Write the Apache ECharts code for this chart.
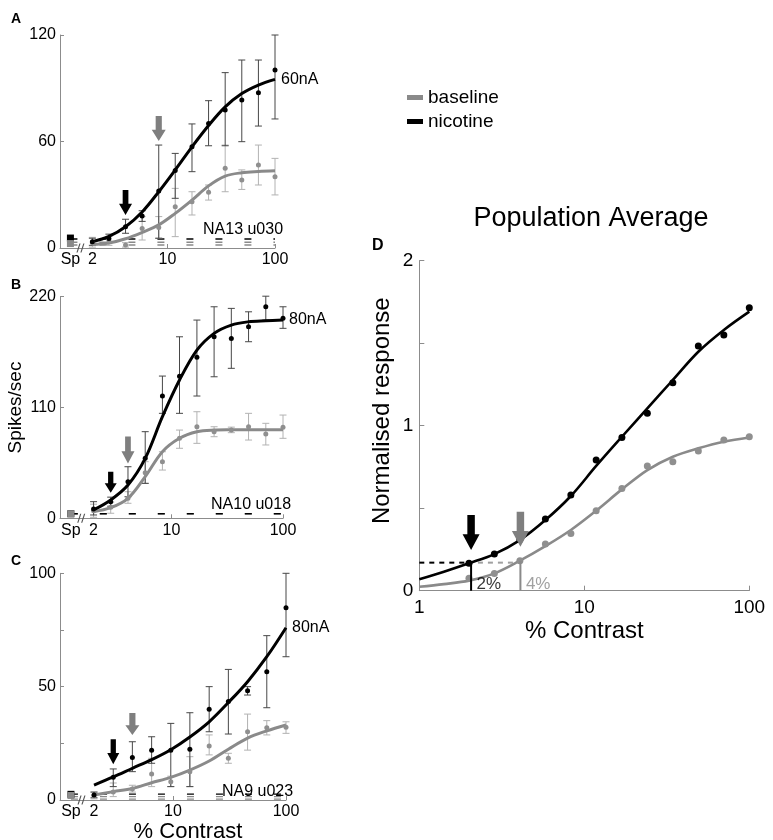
<!DOCTYPE html>
<html><head><meta charset="utf-8">
<script src="https://cdn.jsdelivr.net/npm/echarts@6/dist/echarts.min.js"></script>
<style>html,body{margin:0;padding:0;background:#fff}#c{width:773px;height:840px}</style>
</head><body><div id="c"></div>
<script>
// ---------------- data ----------------
const contrastAB = [2, 2.85, 4.07, 5.81, 8.29, 11.8, 16.9, 24.1, 34.4, 49.1, 70.1, 100];
const contrastC = [2, 2.96, 4.37, 6.47, 9.56, 14.1, 20.9, 30.9, 45.7, 67.6, 100];
const contrastFitD = [1, 1.41, 2, 2.85, 4.07, 5.81, 8.29, 11.8, 16.9, 24.1, 34.4, 49.1, 70.1, 100];

const xTickValues = [1.25, 2, 10, 100];
const xTickLabels = ['Sp', '2', '10', '100'];
const spontX = 1.25;
const breakX = 1.55;

// Panel A (60nA)
const nicA = [3.5, 5.4, 12, 18, 32.1, 43.6, 57, 70.2, 77.7, 83.4, 87.5, 100.3];
const nicALo = [1.5, 3, 8.3, 15, 5.5, 28, 43, 57.6, 57.6, 59.9, 68.7, 72.7];
const nicAHi = [5.5, 7.8, 16.2, 21, 58, 53.3, 69.9, 83, 98.8, 105.9, 105.9, 120];
const basA = [3, 4, 1.7, 11, 11.6, 23.3, 26.1, 31.4, 45, 38.3, 46.8, 40.2];
const basALo = [0.5, 1.5, 0.5, 4.5, 5.5, 6.4, 18.6, 27, 31.7, 33, 35.5, 29.9];
const basAHi = [6, 6.5, 3, 17.7, 17.7, 33.6, 31.7, 35.5, 58, 44, 58, 50.5];
const nicFitA = [3.5, 6.5, 12, 20.3, 31.7, 44, 57, 69, 79.5, 87, 91.8, 95];
const basFitA = [2, 2.8, 5.2, 8.8, 13, 19.5, 27, 35, 40.5, 42.4, 43.1, 43.5];
const spontA = [5.6, 2.5];            // nicotine, baseline
const spLinesNicA = [5.1];
const spLinesBasA = [3.2, 1.7];
const arrowsA = [[4.07, 25.6], [8.29, 67.3]]; // nicotine, baseline

// Panel B (80nA)
const nicB = [9.2, 16.5, 36.3, 59.5, 121.4, 141, 159.8, 180.2, 178.6, 190.2, 210, 198.5];
const nicBLo = [3.3, 12, 21.4, 34.7, 104.2, 104.2, 121.4, 140.5, 148.9, 175.3, 196.8, 188.6];
const nicBHi = [16.5, 21, 51.2, 86, 141.2, 180.2, 196.8, 210, 208.4, 205, 220.5, 210];
const basB = [7.5, 10.9, 19.8, 45.3, 56.2, 79.4, 90.9, 85.9, 87.6, 90.9, 83.7, 90.3];
const basBLo = [1, 5, 14.9, 34.7, 47.9, 69.5, 74.4, 81, 85, 77.7, 72.8, 79.4];
const basBHi = [14, 16, 26.4, 56.2, 66.1, 87.6, 105.8, 90.9, 90.5, 104.2, 94.3, 102.5];
const nicFitB = [8.3, 18.2, 33, 59.5, 100.9, 137.3, 167, 183.6, 191.8, 195.1, 196.1, 196.8];
const basFitB = [6.6, 10.5, 19.8, 41.3, 66.1, 79.4, 85.9, 87.6, 87.9, 88, 88, 88];
const spontB = [4.5, 4.5];
const spLinesNicB = [4.5];
const spLinesBasB = [4.5];
const arrowsB = [[2.85, 35.8], [4.07, 67.8]];

// Panel C (80nA)
const nicC = [2.2, 10, 18.8, 22, 22, 22.4, 40, 43.5, 48.2, 56.6, 84.8];
const nicCLo = [1, 5.9, 12.5, 16.2, 5.9, 5.9, 30.1, 29.1, 46.3, 40.7, 63.2];
const nicCHi = [3.5, 13.7, 25.7, 27.9, 33.8, 38.5, 50, 57.6, 50, 72.5, 100];
const basC = [2, 3.5, 4.8, 11.5, 8.1, 12.5, 23.8, 18.4, 30.1, 31.9, 32.1];
const basCLo = [0.5, 1.5, 3.5, 5.9, 5.9, 5.9, 19.9, 16.2, 22, 28.7, 29.4];
const basCHi = [3.5, 7.5, 6.5, 18.4, 10.5, 19.1, 28.7, 20.6, 37.9, 35, 34.5];
const nicFitC = [6.6, 10.2, 14, 17.8, 22.2, 27.8, 34.5, 43, 52.2, 63.2, 76];
const basFitC = [2.2, 3.7, 5.1, 7.6, 10, 13.2, 17.2, 22.4, 27.3, 30.5, 33.1];
const spontC = [2.5, 2];
const spLinesNicC = [2.6];
const spLinesBasC = [1.5, 0.4];
const arrowsC = [[2.96, 21.3], [4.37, 33.5]];

// Panel D (population average)
const nicD = [0.166, 0.222, 0.31, 0.434, 0.58, 0.792, 0.929, 1.075, 1.261, 1.483, 1.549, 1.715];
const basD = [0.075, 0.105, 0.182, 0.283, 0.347, 0.485, 0.62, 0.756, 0.782, 0.846, 0.913, 0.933];
const nicFitD = [0.069, 0.115, 0.166, 0.222, 0.307, 0.428, 0.574, 0.756, 0.933, 1.105, 1.277, 1.448, 1.58, 1.691];
const basFitD = [0.024, 0.04, 0.061, 0.105, 0.182, 0.27, 0.368, 0.485, 0.614, 0.731, 0.812, 0.863, 0.903, 0.929];
const thresholdLevelD = 0.17;
const thresholdsD = [[2.06, 0.166], [4.1, 0.18]];   // nicotine, baseline
const thresholdTextD = ['2%', '4%'];
const thresholdTextY = 0.04;
const arrowsD = [[2.06, 0.353], [4.1, 0.373]];

// ---------------- styles ----------------
const FONT = 'Liberation Sans, Arial, Helvetica, sans-serif';
const BLACK = '#000000';
const GRAY = '#8a8a8a';
const PT_GRAY = '#8f8f8f';
const ERR_BLACK = '#474747';
const ERR_GRAY = '#b2b2b2';
const AXIS = '#8c8c8c';
const arrowPath = 'path://M2.8,0L7.2,0L7.2,11L10,11L5,20L0,11L2.8,11Z';
const breakPath = 'path://M0,10L3,0L4.2,0L1.2,10Z M4,10L7,0L8.2,0L5.2,10Z';

function fmtX(v) {
  let best = -1, bd = 1e9;
  xTickValues.forEach((t, i) => {
    const d = Math.abs(Math.log10(v) - Math.log10(t));
    if (d < bd) { bd = d; best = i; }
  });
  return bd < 0.02 ? xTickLabels[best] : '';
}

function pairs(xs, ys) { return xs.map((c, i) => [c, ys[i]]); }

function curve(name, gi, xs, ys, color, width, extra) {
  return Object.assign({
    type: 'line', name, xAxisIndex: gi, yAxisIndex: gi,
    data: pairs(xs, ys), smooth: 0.35, symbol: 'none', showSymbol: false,
    color, lineStyle: { color, width }, itemStyle: { color }, z: 3, silent: true
  }, extra || {});
}
function points(name, gi, xs, ys, color, size) {
  return { type: 'scatter', name, xAxisIndex: gi, yAxisIndex: gi, data: pairs(xs, ys),
    symbolSize: size, itemStyle: { color, opacity: 1 }, z: 4, silent: true };
}
function errBars(name, gi, xs, lo, hi, color) {
  return {
    type: 'custom', name, xAxisIndex: gi, yAxisIndex: gi, z: 2, silent: true,
    data: xs.map((c, i) => [c, lo[i], hi[i]]),
    encode: { x: 0, y: [1, 2] },
    renderItem: function (params, api) {
      const x = api.value(0);
      const p1 = api.coord([x, api.value(1)]);
      const p2 = api.coord([x, api.value(2)]);
      const w = 3.5;
      const st = { stroke: color, lineWidth: 1 };
      return { type: 'group', children: [
        { type: 'line', shape: { x1: p1[0], y1: p1[1], x2: p2[0], y2: p2[1] }, style: st },
        { type: 'line', shape: { x1: p1[0] - w, y1: p1[1], x2: p1[0] + w, y2: p1[1] }, style: st },
        { type: 'line', shape: { x1: p2[0] - w, y1: p2[1], x2: p2[0] + w, y2: p2[1] }, style: st }
      ] };
    }
  };
}
function spLines(name, gi, levels, color) {
  return levels.map((v, k) => ({
    type: 'line', name: name + k, xAxisIndex: gi, yAxisIndex: gi,
    data: [[spontX, v], [100, v]], symbol: 'none',
    lineStyle: { color, width: 1.4, type: [7, 22] }, z: 1, silent: true
  }));
}
function spontMarks(gi, sp) {
  return [
    { type: 'scatter', name: 'spN' + gi, xAxisIndex: gi, yAxisIndex: gi, data: [[spontX, sp[0]]],
      symbol: 'rect', symbolSize: 7, itemStyle: { color: BLACK, opacity: 1 }, z: 4, silent: true },
    { type: 'scatter', name: 'spB' + gi, xAxisIndex: gi, yAxisIndex: gi, data: [[spontX, sp[1]]],
      symbol: 'rect', symbolSize: 7, itemStyle: { color: GRAY, opacity: 1 }, z: 4, silent: true },
    { type: 'scatter', name: 'brk' + gi, xAxisIndex: gi, yAxisIndex: gi, data: [[breakX, 0]],
      symbol: breakPath, symbolSize: [8, 9], itemStyle: { color: '#555', opacity: 1 }, z: 6, silent: true }
  ];
}
function arrows(gi, arr, sizes) {
  return [
    { type: 'scatter', name: 'arN' + gi, xAxisIndex: gi, yAxisIndex: gi,
      data: [{ value: arr[0], symbolSize: sizes[0] }], symbol: arrowPath,
      itemStyle: { color: BLACK, opacity: 1 }, z: 10, silent: true },
    { type: 'scatter', name: 'arB' + gi, xAxisIndex: gi, yAxisIndex: gi,
      data: [{ value: arr[1], symbolSize: sizes[1] }], symbol: arrowPath,
      itemStyle: { color: '#7f7f7f', opacity: 1 }, z: 10, silent: true }
  ];
}
function endLbl(text) {
  return { endLabel: { show: true, formatter: text, color: '#000', fontSize: 16, fontFamily: FONT, distance: 6 } };
}

function panelX(gi, extra) {
  return Object.assign({
    type: 'log', gridIndex: gi, min: 1, max: 100, logBase: 10,
    axisLine: { lineStyle: { color: AXIS, width: 1 } },
    axisTick: { inside: true, length: 4, lineStyle: { color: AXIS } },
    minorTick: { show: false }, splitLine: { show: false }, minorSplitLine: { show: false },
    axisLabel: { customValues: xTickValues, formatter: fmtX, fontSize: 16, color: '#000', margin: 4, fontFamily: FONT }
  }, extra || {});
}
function panelY(gi, max, interval, labelStep, extra) {
  return Object.assign({
    type: 'value', gridIndex: gi, min: 0, max, interval,
    axisLine: { show: true, lineStyle: { color: AXIS, width: 1 } },
    axisTick: { show: true, inside: true, length: 4, lineStyle: { color: AXIS } },
    splitLine: { show: false },
    axisLabel: { fontSize: 16, color: '#000', margin: 4, fontFamily: FONT,
      formatter: v => (Math.abs(v / labelStep - Math.round(v / labelStep)) < 1e-6 ? String(v) : '') }
  }, extra || {});
}

const arrowSizesA = [[13, 25], [14, 25]];
const arrowSizesB = [[12, 21], [13, 27]];
const arrowSizesC = [[12, 25], [14, 22]];
const arrowSizesD = [[17, 35], [17, 35]];

function panelSeries(gi, xs, nic, nicLo, nicHi, bas, basLo, basHi, nicFit, basFit, sp, spN, spB, arr, arrSz, lbl) {
  return [].concat(
    spLines('spLineB' + gi, gi, spB, GRAY),
    spLines('spLineN' + gi, gi, spN, BLACK),
    [errBars('errB' + gi, gi, xs, basLo, basHi, ERR_GRAY),
     errBars('errN' + gi, gi, xs, nicLo, nicHi, ERR_BLACK),
     curve('fitB' + gi, gi, xs, basFit, GRAY, 3),
     curve('fitN' + gi, gi, xs, nicFit, BLACK, 3, endLbl(lbl)),
     points('ptB' + gi, gi, xs, bas, PT_GRAY, 5),
     points('ptN' + gi, gi, xs, nic, BLACK, 5)],
    spontMarks(gi, sp),
    arrows(gi, arr, arrSz)
  );
}

const series = [].concat(
  // Panel D first so legend colours come from these
  [
    curve('baseline', 3, contrastFitD, basFitD, GRAY, 2.6),
    curve('nicotine', 3, contrastFitD, nicFitD, BLACK, 2.6),
    points('ptBD', 3, contrastAB, basD, PT_GRAY, 7),
    points('ptND', 3, contrastAB, nicD, BLACK, 7),
    { type: 'line', name: 'thrDashN', xAxisIndex: 3, yAxisIndex: 3, symbol: 'none', silent: true, z: 2,
      data: [[1, thresholdLevelD], [thresholdsD[0][0], thresholdLevelD]],
      lineStyle: { color: BLACK, width: 2, type: [5, 5] } },
    { type: 'line', name: 'thrDashB', xAxisIndex: 3, yAxisIndex: 3, symbol: 'none', silent: true, z: 2,
      data: [[thresholdsD[0][0] * 1.1, thresholdLevelD], [thresholdsD[1][0], thresholdLevelD]],
      lineStyle: { color: '#a0a0a0', width: 2, type: [5, 5] } },
    { type: 'line', name: 'thrVN', xAxisIndex: 3, yAxisIndex: 3, symbol: 'none', silent: true, z: 5,
      data: [[thresholdsD[0][0], 0], thresholdsD[0]], lineStyle: { color: BLACK, width: 2 } },
    { type: 'line', name: 'thrVB', xAxisIndex: 3, yAxisIndex: 3, symbol: 'none', silent: true, z: 5,
      data: [[thresholdsD[1][0], 0], thresholdsD[1]], lineStyle: { color: GRAY, width: 2 } },
    { type: 'scatter', name: 'thrTxt', xAxisIndex: 3, yAxisIndex: 3, silent: true, z: 6,
      symbolSize: 1, itemStyle: { color: 'rgba(0,0,0,0)' },
      data: thresholdsD.map((t, i) => ({ value: [t[0], thresholdTextY],
        label: { show: true, position: 'right', distance: 5, formatter: thresholdTextD[i],
          color: i === 0 ? '#000' : GRAY, fontSize: 17, fontFamily: FONT } })) }
  ],
  arrows(3, arrowsD, arrowSizesD),
  panelSeries(0, contrastAB, nicA, nicALo, nicAHi, basA, basALo, basAHi, nicFitA, basFitA, spontA, spLinesNicA, spLinesBasA, arrowsA, arrowSizesA, '60nA'),
  panelSeries(1, contrastAB, nicB, nicBLo, nicBHi, basB, basBLo, basBHi, nicFitB, basFitB, spontB, spLinesNicB, spLinesBasB, arrowsB, arrowSizesB, '80nA'),
  panelSeries(2, contrastC, nicC, nicCLo, nicCHi, basC, basCLo, basCHi, nicFitC, basFitC, spontC, spLinesNicC, spLinesBasC, arrowsC, arrowSizesC, '80nA')
);

const titleStyle = (size, bold) => ({ color: '#000', fontSize: size, fontWeight: bold ? 'bold' : 'normal', fontFamily: FONT });

const option = {
  animation: false,
  backgroundColor: '#fff',
  textStyle: { fontFamily: FONT },
  title: [
    { text: 'A', left: 11, top: 12, padding: 0, textStyle: titleStyle(14, true) },
    { text: 'B', left: 11, top: 278, padding: 0, textStyle: titleStyle(14, true) },
    { text: 'C', left: 11, top: 554, padding: 0, textStyle: titleStyle(14, true) },
    { text: 'D', left: 372, top: 238, padding: 0, textStyle: titleStyle(16, true) },
    { text: 'Population Average', left: 591, textAlign: 'center', top: 205, padding: 0, textStyle: titleStyle(27, false) },
    { text: 'NA13 u030', left: 203, top: 222, padding: 0, textStyle: titleStyle(16, false) },
    { text: 'NA10 u018', left: 211, top: 497, padding: 0, textStyle: titleStyle(16, false) },
    { text: 'NA9 u023', left: 222, top: 784, padding: 0, textStyle: titleStyle(16, false) }
  ],
  legend: {
    data: ['baseline', 'nicotine'], orient: 'vertical', left: 407, top: 88,
    icon: 'rect', itemWidth: 16, itemHeight: 5, itemGap: 5, padding: 0,
    selectedMode: false,
    textStyle: { color: '#000', fontSize: 19, fontFamily: FONT }
  },
  grid: [
    { left: 60, top: 35, width: 215, height: 213, outerBoundsMode: 'none', containLabel: false },
    { left: 60, top: 296.7, width: 223, height: 221.6, outerBoundsMode: 'none', containLabel: false },
    { left: 60, top: 573.3, width: 226, height: 226.7, outerBoundsMode: 'none', containLabel: false },
    { left: 419.3, top: 260.7, width: 330, height: 330, outerBoundsMode: 'none', containLabel: false }
  ],
  xAxis: [
    panelX(0),
    panelX(1),
    panelX(2, { name: '% Contrast', nameLocation: 'middle', nameGap: 15,
      nameTextStyle: { fontSize: 22, color: '#000', fontFamily: FONT, padding: [0, 0, 0, 30] } }),
    {
      type: 'log', gridIndex: 3, min: 1, max: 100, logBase: 10,
      axisLine: { lineStyle: { color: AXIS, width: 1 } },
      axisTick: { inside: true, length: 5, lineStyle: { color: AXIS } },
      minorTick: { show: false }, splitLine: { show: false },
      axisLabel: { fontSize: 19, color: '#000', margin: 8, fontFamily: FONT, formatter: v => String(Math.round(v)) },
      name: '% Contrast', nameLocation: 'middle', nameGap: 29,
      nameTextStyle: { fontSize: 24, color: '#000', fontFamily: FONT }
    }
  ],
  yAxis: [
    panelY(0, 120, 60, 60),
    panelY(1, 220, 110, 110, { name: 'Spikes/sec', nameLocation: 'middle', nameGap: 34,
      nameTextStyle: { fontSize: 19, color: '#000', fontFamily: FONT } }),
    panelY(2, 100, 25, 50),
    {
      type: 'value', gridIndex: 3, min: 0, max: 2, interval: 0.5,
      axisLine: { show: true, lineStyle: { color: AXIS, width: 1 } },
      axisTick: { show: true, inside: true, length: 5, lineStyle: { color: AXIS } },
      splitLine: { show: false },
      axisLabel: { fontSize: 19, color: '#000', margin: 6, fontFamily: FONT,
        formatter: v => (Math.abs(v - Math.round(v)) < 1e-6 ? String(v) : '') },
      name: 'Normalised response', nameLocation: 'middle', nameGap: 25,
      nameTextStyle: { fontSize: 24, color: '#000', fontFamily: FONT, padding: [0, 0, 0, 30] }
    }
  ],
  series
};

const chart = echarts.init(document.getElementById('c'), null, { renderer: 'canvas' });
chart.setOption(option);
</script>
</body></html>
